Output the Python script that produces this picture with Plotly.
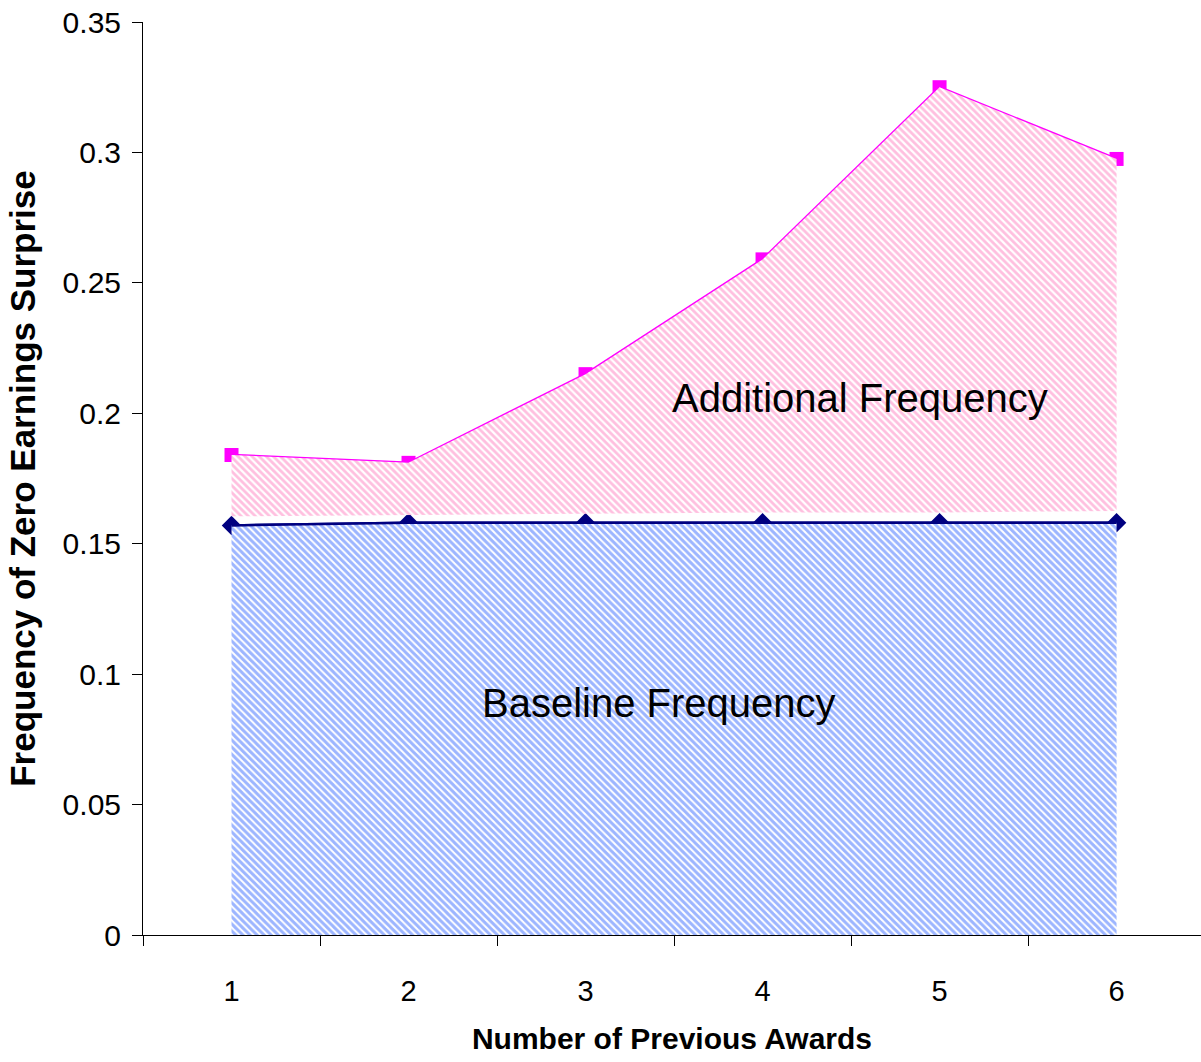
import plotly.graph_objects as go

categories = ["1", "2", "3", "4", "5", "6"]
baseline = [0.157, 0.158, 0.158, 0.158, 0.158, 0.158]
total = [0.184, 0.181, 0.215, 0.259, 0.325, 0.2975]
additional_floor = [0.1605, 0.161, 0.1615, 0.162, 0.162, 0.1625]
y_ticks = [0, 0.05, 0.1, 0.15, 0.2, 0.25, 0.3, 0.35]
y_tick_text = ["0", "0.05", "0.1", "0.15", "0.2", "0.25", "0.3", "0.35"]

fig = go.Figure()

# lines with markers (drawn first, partially covered by fills like the original)
fig.add_trace(go.Scatter(x=categories, y=total, mode="lines+markers",
                         line=dict(color="#ff00ff", width=2.5),
                         marker=dict(symbol="square", size=14, color="#ff00ff"),
                         showlegend=False, hoverinfo="skip"))
fig.add_trace(go.Scatter(x=categories, y=baseline, mode="lines+markers",
                         line=dict(color="#000080", width=2.5),
                         marker=dict(symbol="diamond", size=15, color="#000080"),
                         showlegend=False, hoverinfo="skip"))

# additional frequency area (pink hatched)
fig.add_trace(go.Scatter(x=categories + categories[::-1],
                         y=total + additional_floor[::-1],
                         mode="lines", line=dict(width=0, color="rgba(0,0,0,0)"),
                         fill="toself", fillcolor="rgba(255,255,255,0)",
                         fillpattern=dict(shape="\\", fgcolor="#ff7fc0", bgcolor="white",
                                          size=5, solidity=0.55),
                         showlegend=False, hoverinfo="skip"))

# baseline frequency area (blue hatched)
fig.add_trace(go.Scatter(x=categories + categories[::-1],
                         y=baseline + [0] * len(categories),
                         mode="lines", line=dict(width=0, color="rgba(0,0,0,0)"),
                         fill="toself", fillcolor="rgba(255,255,255,0)",
                         fillpattern=dict(shape="\\", fgcolor="#3a6cff", bgcolor="white",
                                          size=5, solidity=0.6),
                         showlegend=False, hoverinfo="skip"))

# baseline line visible on top edge of the blue area
fig.add_trace(go.Scatter(x=categories, y=baseline, mode="lines",
                         line=dict(color="#000080", width=2.5),
                         showlegend=False, hoverinfo="skip"))

fig.add_annotation(x=3.55, y=0.2058, xref="x", yref="y", text="Additional Frequency",
                   showarrow=False, font=dict(family="Liberation Sans, Arial", size=40, color="black"))
fig.add_annotation(x=2.415, y=0.0889, xref="x", yref="y", text="Baseline Frequency",
                   showarrow=False, font=dict(family="Liberation Sans, Arial", size=40, color="black"))

fig.update_layout(
    width=1201, height=1062,
    margin=dict(l=143, r=0, t=22, b=127),
    paper_bgcolor="white", plot_bgcolor="white",
    font=dict(family="Liberation Sans, Arial", color="black"),
    xaxis=dict(type="category", categoryorder="array", categoryarray=categories,
               range=[-0.5, 5.477], tickson="boundaries", ticks="outside", ticklen=10,
               tickcolor="black", tickwidth=1, showline=True, linecolor="black", linewidth=1,
               showgrid=False, zeroline=False, tickfont=dict(size=29),
               ticklabelstandoff=30,
               title=dict(text="<b>Number of Previous Awards</b>", standoff=22,
                          font=dict(family="Liberation Sans, Arial", size=30))),
    yaxis=dict(range=[0, 0.35], tickvals=y_ticks, ticktext=y_tick_text, ticks="outside",
               ticklen=10, tickcolor="black", tickwidth=1, showline=True, linecolor="black",
               linewidth=1, showgrid=False, zeroline=False, tickfont=dict(size=30),
               ticklabelstandoff=5,
               title=dict(text="<b>Frequency of Zero Earnings Surprise</b>", standoff=16,
                          font=dict(family="Liberation Sans, Arial", size=35))),
)

fig.write_html("out.html")
